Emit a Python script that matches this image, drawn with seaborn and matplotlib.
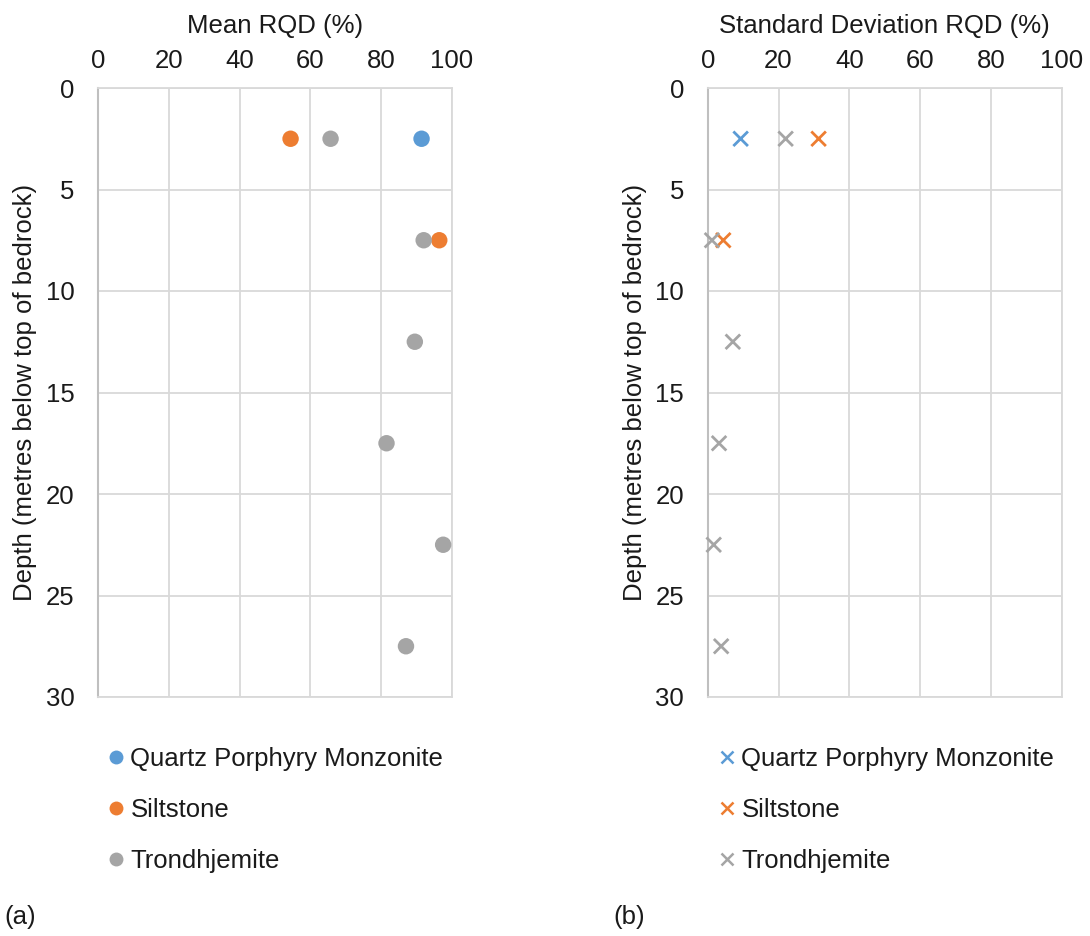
import matplotlib
matplotlib.use("Agg")
import matplotlib.pyplot as plt
import seaborn as sns
import pandas as pd
from matplotlib.lines import Line2D

rock_types = ["Quartz Porphyry Monzonite", "Siltstone", "Trondhjemite"]
colors = ["#5B9BD5", "#ED7D31", "#A5A5A5"]

qpm_depth = [2.5]
qpm_mean = [91.4]
qpm_sd = [9.3]

silt_depth = [2.5, 7.5]
silt_mean = [54.4, 96.4]
silt_sd = [31.3, 4.4]

trond_depth = [2.5, 7.5, 12.5, 17.5, 22.5, 27.5]
trond_mean = [65.7, 92.0, 89.5, 81.5, 97.5, 87.0]
trond_sd = [22.0, 1.2, 7.1, 3.2, 1.7, 3.8]

x_ticks = [0, 20, 40, 60, 80, 100]
y_ticks = [0, 5, 10, 15, 20, 25, 30]

rows = []
for name, d, m, s in [(rock_types[0], qpm_depth, qpm_mean, qpm_sd),
                      (rock_types[1], silt_depth, silt_mean, silt_sd),
                      (rock_types[2], trond_depth, trond_mean, trond_sd)]:
    for di, mi, si in zip(d, m, s):
        rows.append({"Rock": name, "Depth": di, "Mean": mi, "SD": si})
df = pd.DataFrame(rows)

sns.set_theme(style="white")
plt.rcParams['font.family'] = ['Liberation Sans', 'DejaVu Sans']

FS = 18.5
TXT = "#1a1a1a"

fig = plt.figure(figsize=(10.9, 9.36), dpi=100)
W, H = 1090, 936
ax1 = fig.add_axes([98 / W, 1 - 697 / H, (452 - 98) / W, (697 - 88) / H])
ax2 = fig.add_axes([707.7 / W, 1 - 697 / H, (1062 - 707.7) / W, (697 - 88) / H])

palette = dict(zip(rock_types, colors))

sns.scatterplot(data=df, x="Mean", y="Depth", hue="Rock", hue_order=rock_types,
                palette=palette, s=140, marker="o", edgecolor="none",
                legend=False, ax=ax1, zorder=3, clip_on=False)
sns.scatterplot(data=df, x="SD", y="Depth", hue="Rock", hue_order=rock_types,
                palette=palette, s=110, marker="x", linewidth=2.0,
                legend=False, ax=ax2, zorder=3, clip_on=False)

for ax, label in [(ax1, "Mean RQD (%)"), (ax2, "Standard Deviation RQD (%)")]:
    ax.set_xlim(0, 100)
    ax.set_ylim(30, 0)
    ax.set_xticks(x_ticks)
    ax.set_yticks(y_ticks)
    ax.xaxis.tick_top()
    ax.xaxis.set_label_position("top")
    ax.set_xlabel(label, fontsize=FS, color=TXT, labelpad=12)
    ax.set_ylabel("Depth (metres below top of bedrock)", fontsize=FS,
                  color=TXT, labelpad=6)
    ax.tick_params(axis="both", length=0, labelsize=FS, labelcolor=TXT)
    ax.tick_params(axis="x", pad=10.5)
    ax.tick_params(axis="y", pad=17)
    ax.grid(True, color="#D9D9D9", linewidth=1.3)
    ax.set_axisbelow(True)
    for side in ["top", "right", "bottom"]:
        ax.spines[side].set_color("#D9D9D9")
        ax.spines[side].set_linewidth(1.3)
    ax.spines["left"].set_color("#BFBFBF")
    ax.spines["left"].set_linewidth(1.5)

h1 = [Line2D([], [], marker="o", linestyle="none", markersize=10,
             markerfacecolor=c, markeredgecolor="none") for c in colors]
h2 = [Line2D([], [], marker="x", linestyle="none", markersize=9,
             markeredgewidth=1.8, color=c) for c in colors]

fig.legend(h1, rock_types, loc="upper left", bbox_to_anchor=(106 / W, 1 - 747 / H),
           frameon=False, fontsize=FS, handletextpad=0.15, labelspacing=1.05,
           handlelength=0.8, borderaxespad=0, borderpad=0, labelcolor=TXT)
fig.legend(h2, rock_types, loc="upper left", bbox_to_anchor=(717 / W, 1 - 747 / H),
           frameon=False, fontsize=FS, handletextpad=0.15, labelspacing=1.05,
           handlelength=0.8, borderaxespad=0, borderpad=0, labelcolor=TXT)

fig.text(4 / W, 1 - 917 / H, "(a)", fontsize=FS, va="center", ha="left", color=TXT)
fig.text(613 / W, 1 - 917 / H, "(b)", fontsize=FS, va="center", ha="left", color=TXT)

fig.savefig("out.png", dpi=100, facecolor="white")
